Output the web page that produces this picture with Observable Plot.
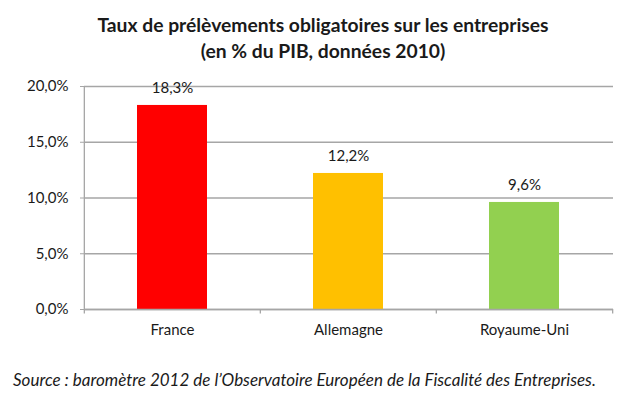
<!DOCTYPE html>
<html><head><meta charset="utf-8">
<script src="https://cdn.jsdelivr.net/npm/d3@7"></script>
<script src="https://cdn.jsdelivr.net/npm/@observablehq/plot@0.6"></script>
<style>
body{margin:0;background:#fff;}
#wrap{position:relative;width:628px;height:398px;font-family:Lato,"Open Sans",sans-serif;color:#1a1a1a;}
#title{position:absolute;top:12px;left:0;width:646px;text-align:center;font-weight:bold;font-size:19.3px;line-height:26px;}
#caption{position:absolute;top:369px;left:13px;font-style:italic;font-size:17px;white-space:nowrap;}
#chart{position:absolute;top:0;left:0;}
</style></head>
<body><div id="wrap">
<div id="chart"></div>
<div id="title">Taux de prélèvements obligatoires sur les entreprises<br>(en % du PIB, données 2010)</div>
<div id="caption">Source : baromètre 2012 de l’Observatoire Européen de la Fiscalité des Entreprises.</div>
</div>
<script>
const categories = ["France", "Allemagne", "Royaume-Uni"];
const values = [18.3, 12.2, 9.6];
const colors = ["#FF0000", "#FFC000", "#92D050"];
const yTicks = [0, 5, 10, 15, 20];

const data = categories.map((c, i) => ({cat: c, v: values[i], col: colors[i]}));
const fr = d3.formatLocale({decimal: ",", thousands: " ", grouping: [3], currency: ["", "€"]});
const fmt = v => fr.format(".1f")(v) + "%";

const W = 628, H = 398, mL = 84, mR = 15, mT = 86, mB = 89;
const step = (W - mL - mR) / categories.length;
const grid = "#a6a6a6";

const plot = Plot.plot({
  width: W, height: H,
  marginLeft: mL, marginRight: mR, marginTop: mT, marginBottom: mB,
  style: {fontFamily: "Lato, 'Open Sans', sans-serif", fontSize: "15px", color: "#1a1a1a", background: "white"},
  x: {domain: categories, paddingInner: 0.6, paddingOuter: 0.3, label: null},
  y: {domain: [0, 20], label: null},
  marks: [
    Plot.ruleY(yTicks, {stroke: grid, strokeWidth: 1.3}),
    Plot.barY(data, {x: "cat", y: "v", fill: "col"}),
    Plot.ruleY([0], {stroke: grid, strokeWidth: 1.3}),
    Plot.ruleX([0], {x: () => categories[0], dx: -step / 2, y1: 0, y2: 20, stroke: grid, strokeWidth: 1.3}),
    Plot.ruleX(categories, {x: d => d, dx: -step / 2, y1: 0, y2: -0.4, stroke: grid, strokeWidth: 1.3}),
    Plot.ruleX([categories[categories.length - 1]], {x: d => d, dx: step / 2, y1: 0, y2: -0.4, stroke: grid, strokeWidth: 1.3}),
    Plot.axisY({ticks: yTicks, tickSize: 4, tickPadding: 12, tickFormat: fmt, stroke: grid, fill: "#1a1a1a", fontSize: 15}),
    Plot.axisX({tickSize: 0, tickPadding: 15, fill: "#1a1a1a", fontSize: 15}),
    Plot.text(data, {x: "cat", y: "v", text: d => fmt(d.v), dy: -17, fill: "#1a1a1a", fontSize: 15})
  ]
});
document.getElementById("chart").appendChild(plot);
</script>
</body></html>
